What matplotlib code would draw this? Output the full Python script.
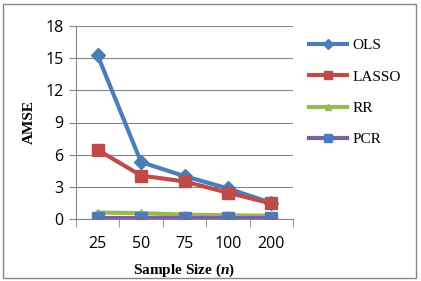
import matplotlib
matplotlib.use("Agg")
matplotlib.rcParams["mathtext.fontset"] = "custom"
matplotlib.rcParams["mathtext.bfit"] = "Liberation Serif:italic:bold"
matplotlib.rcParams["mathtext.it"] = "Liberation Serif:italic"
matplotlib.rcParams["mathtext.rm"] = "Liberation Serif"
import matplotlib.pyplot as plt
from matplotlib.patches import Rectangle
from matplotlib.lines import Line2D

categories = ["25", "50", "75", "100", "200"]
ols = [15.25, 5.3, 4.0, 2.85, 1.5]
lasso = [6.45, 4.05, 3.5, 2.45, 1.45]
rr = [0.6, 0.55, 0.4, 0.35, 0.3]
pcr = [0.08, 0.08, 0.08, 0.08, 0.08]
yticks = [0, 3, 6, 9, 12, 15, 18]

W, H = 421, 281
fig = plt.figure(figsize=(W / 100, H / 100), dpi=100)
ax = fig.add_axes([76 / W, 1 - 219 / H, (293 - 76) / W, (219 - 26) / H])

x = list(range(len(categories)))
blue, red, green, purple = "#4A7EBB", "#BE4B48", "#98B954", "#7D60A0"

ax.plot(x, ols, color=blue, lw=3, marker="D", ms=7, mfc=blue, mec=blue, zorder=5)
ax.plot(x, lasso, color=red, lw=3, marker="s", ms=8, mfc=red, mec=red, zorder=5)
ax.plot(x, rr, color=green, lw=3, marker="^", ms=6, mfc=green, mec=green, zorder=4)
ax.plot(x, pcr, color=purple, lw=3, zorder=4)
ax.plot(x, pcr, ls="none", marker="s", ms=8, mfc=blue, mec=blue, zorder=6)
ax.plot(x, pcr, ls="none", marker="x", ms=7, mew=1, color=purple, zorder=7)

ax.set_xlim(-0.5, len(categories) - 0.5)
ax.set_ylim(0, 18)
ax.set_yticks(yticks)
ax.set_yticklabels([str(v) for v in yticks], fontsize=11.5, family="Open Sans")
ax.set_xticks(x)
ax.set_xticklabels(categories, fontsize=11.5, family="Open Sans")
ax.set_xticks([i + 0.5 for i in range(-1, len(categories))], minor=True)
ax.tick_params(axis="x", which="major", length=0, pad=12)
ax.tick_params(axis="x", which="minor", length=6, color="#868686", direction="out")
ax.tick_params(axis="y", length=5, color="#868686", direction="out", pad=4)

ax.grid(axis="y", color="#868686", lw=0.8)
ax.set_axisbelow(True)
for s in ["top", "right"]:
    ax.spines[s].set_visible(False)
for s in ["left", "bottom"]:
    ax.spines[s].set_color("#868686")
    ax.spines[s].set_linewidth(0.8)

ax.set_ylabel("AMSE", family="Liberation Serif", fontweight="bold", fontsize=11, labelpad=7)
ax.set_xlabel("Sample Size ($\\mathbfit{n}$)", family="Liberation Serif", fontweight="bold",
              fontsize=11, labelpad=7)

handles = [
    Line2D([], [], color=blue, lw=3, marker="D", ms=5),
    Line2D([], [], color=red, lw=3, marker="s", ms=6),
    Line2D([], [], color=green, lw=3, marker="^", ms=5),
    Line2D([], [], color=purple, lw=3, marker="s", ms=6, mfc=blue, mec=blue),
]
labels = ["OLS", "LASSO", "RR", "PCR"]
leg = fig.legend(handles, labels, loc="upper left", bbox_to_anchor=(295 / W, 1 - 25 / H),
                 frameon=False, prop={"family": "Liberation Serif", "size": 11},
                 handlelength=2.5, labelspacing=1.15, handletextpad=0.35)

fig.patches.append(Rectangle((3 / W, 3 / H), (416 - 3) / W, (277 - 3) / H,
                             transform=fig.transFigure, fill=False, ec="#868686", lw=1))

fig.savefig("out.png", dpi=100)
